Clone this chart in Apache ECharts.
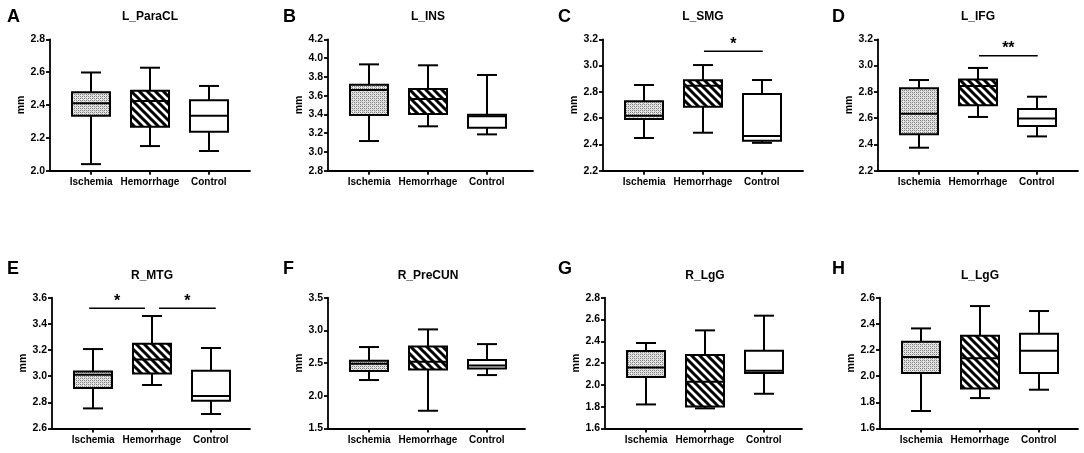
<!DOCTYPE html>
<html><head><meta charset="utf-8">
<script src="https://cdn.jsdelivr.net/npm/echarts@6/dist/echarts.min.js"></script>
<style>html,body{margin:0;padding:0;background:#fff}#c{width:1084px;height:453px}</style>
</head><body><div id="c"></div>
<script>
// ---------- DATA ----------
const categories = ['Ischemia', 'Hemorrhage', 'Control'];
// each row: [min, Q1, median, Q3, max]
const L_ParaCL = [[2.04, 2.335, 2.41, 2.478, 2.598], [2.15, 2.268, 2.425, 2.487, 2.627], [2.12, 2.237, 2.335, 2.429, 2.516]];
const L_INS    = [[3.116, 3.393, 3.66, 3.717, 3.933], [3.273, 3.404, 3.564, 3.67, 3.923], [3.187, 3.258, 3.38, 3.395, 3.82]];
const L_SMG    = [[2.449, 2.593, 2.619, 2.728, 2.852], [2.489, 2.687, 2.847, 2.888, 3.004], [2.412, 2.428, 2.464, 2.784, 2.89]];
const L_IFG    = [[2.375, 2.477, 2.634, 2.827, 2.89], [2.609, 2.698, 2.845, 2.895, 2.982], [2.461, 2.54, 2.598, 2.67, 2.763]];
const R_MTG    = [[2.753, 2.91, 3.01, 3.036, 3.207], [2.932, 3.021, 3.128, 3.248, 3.46], [2.71, 2.812, 2.847, 3.041, 3.215]];
const R_PreCUN = [[2.24, 2.378, 2.49, 2.536, 2.745], [1.77, 2.403, 2.52, 2.755, 3.015], [2.316, 2.418, 2.464, 2.546, 2.79]];
const R_LgG    = [[1.82, 2.071, 2.16, 2.31, 2.384], [1.784, 1.802, 2.029, 2.274, 2.5], [1.918, 2.108, 2.13, 2.313, 2.635]];
const L_LgG    = [[1.733, 2.023, 2.146, 2.263, 2.365], [1.832, 1.906, 2.136, 2.309, 2.536], [1.896, 2.023, 2.194, 2.324, 2.498]];

const panelLetters = ['A', 'B', 'C', 'D', 'E', 'F', 'G', 'H'];
const panelTitles = ['L_ParaCL', 'L_INS', 'L_SMG', 'L_IFG', 'R_MTG', 'R_PreCUN', 'R_LgG', 'L_LgG'];
const panelStats = [L_ParaCL, L_INS, L_SMG, L_IFG, R_MTG, R_PreCUN, R_LgG, L_LgG];
const yMins = [2.0, 2.8, 2.2, 2.2, 2.6, 1.5, 1.6, 1.6];
const yMaxs = [2.8, 4.2, 3.2, 3.2, 3.6, 3.5, 2.8, 2.6];
const yIntervals = [0.2, 0.2, 0.2, 0.2, 0.2, 0.5, 0.2, 0.2];
// significance comparisons: [fromGroup, toGroup, yLevel, label]
const sigC = [[2, 3, 3.11, '*']];
const sigD = [[2, 3, 3.075, '**']];
const sigE = [[1, 2, 3.519, '*'], [2, 3, 3.519, '*']];
const panelSig = [[], [], sigC, sigD, sigE, [], [], []];

// ---------- LAYOUT ----------
const FONT = '"Liberation Sans", Arial, Helvetica, sans-serif';
const lefts  = [50, 328, 603, 878, 52, 328, 605, 880];
const widths = [200, 205, 200, 200, 198, 197, 197, 198];
const rowTop = [39.3, 297.7], rowH = [131.4, 130.7];
const letterX = [7, 283, 558, 832, 7, 283, 558, 832];
const UNIT = 58.8; // px per category step
const BOX_HALF = 19, CAP_HALF = 10;

function makeDots() {
  const c = document.createElement('canvas'); c.width = 4; c.height = 4;
  const g = c.getContext('2d');
  g.fillStyle = '#e6e6e6'; g.fillRect(0, 0, 4, 4);
  g.fillStyle = '#7e7e7e';
  g.fillRect(0, 0, 1, 1); g.fillRect(2, 2, 1, 1); g.fillRect(2, 0, 1, 1); g.fillRect(0, 2, 1, 1);
  g.fillStyle = '#b8b8b8';
  g.fillRect(1, 1, 1, 1); g.fillRect(3, 3, 1, 1);
  return c;
}
function makeHatch() {
  const s = 8;
  const c = document.createElement('canvas'); c.width = s; c.height = s;
  const g = c.getContext('2d');
  g.fillStyle = '#fff'; g.fillRect(0, 0, s, s);
  g.strokeStyle = '#000'; g.lineWidth = 3; g.lineCap = 'square';
  g.beginPath();
  g.moveTo(-2, -2); g.lineTo(s + 2, s + 2);
  g.moveTo(-2, s - 2); g.lineTo(2, s + 2);
  g.moveTo(s - 2, -2); g.lineTo(s + 2, 2);
  g.stroke();
  return c;
}
const fills = [
  { image: makeDots(), repeat: 'repeat' },
  { image: makeHatch(), repeat: 'repeat' },
  '#ffffff'
];

const grids = [], xAxes = [], yAxes = [], series = [], titles = [];
for (let i = 0; i < 8; i++) {
  const row = i < 4 ? 0 : 1;
  grids.push({ left: lefts[i], top: rowTop[row], width: widths[i], height: rowH[row] });
  xAxes.push({
    gridIndex: i, type: 'value', min: 0.3, max: 0.3 + widths[i] / UNIT,
    axisLine: { show: true, onZero: false, lineStyle: { color: '#000', width: 1.8 } },
    axisTick: { show: true, customValues: [1, 2, 3], length: 4, lineStyle: { color: '#000', width: 1.8 } },
    axisLabel: { customValues: [1, 2, 3], formatter: v => categories[Math.round(v) - 1] || '',
      color: '#000', fontWeight: 'bold', fontSize: 10, fontFamily: FONT, margin: 7 },
    splitLine: { show: false }
  });
  yAxes.push({
    gridIndex: i, type: 'value', min: yMins[i], max: yMaxs[i], interval: yIntervals[i],
    axisLine: { show: true, onZero: false, lineStyle: { color: '#000', width: 1.8 } },
    axisTick: { show: true, length: 4, lineStyle: { color: '#000', width: 1.8 } },
    axisLabel: { formatter: v => v.toFixed(1), color: '#000', fontWeight: 'bold', fontSize: 10.5, fontFamily: FONT, margin: 5 },
    splitLine: { show: false },
    name: 'mm', nameLocation: 'middle', nameGap: 22,
    nameTextStyle: { color: '#000', fontWeight: 'bold', fontSize: 10.5, fontFamily: FONT }
  });
  const stats = panelStats[i];
  series.push({
    type: 'custom', xAxisIndex: i, yAxisIndex: i, clip: false,
    data: stats.map((s, j) => [j + 1].concat(s)),
    encode: { x: 0, y: [1, 2, 3, 4, 5] },
    renderItem: function (params, api) {
      const x = api.value(0);
      const p = [1, 2, 3, 4, 5].map(k => api.coord([x, api.value(k)]));
      const cx = Math.round(p[0][0]);
      const yMin = p[0][1], yQ1 = p[1][1], yMed = p[2][1], yQ3 = p[3][1], yMax = p[4][1];
      const ls = { stroke: '#000', lineWidth: 2, fill: null };
      return {
        type: 'group',
        children: [
          { type: 'line', shape: { x1: cx, y1: yQ1, x2: cx, y2: yMin }, style: ls },
          { type: 'line', shape: { x1: cx, y1: yQ3, x2: cx, y2: yMax }, style: ls },
          { type: 'line', shape: { x1: cx - CAP_HALF, y1: yMin, x2: cx + CAP_HALF, y2: yMin }, style: ls },
          { type: 'line', shape: { x1: cx - CAP_HALF, y1: yMax, x2: cx + CAP_HALF, y2: yMax }, style: ls },
          { type: 'rect', shape: { x: cx - BOX_HALF, y: yQ3, width: 2 * BOX_HALF, height: yQ1 - yQ3 },
            style: { fill: fills[params.dataIndex], stroke: '#000', lineWidth: 2 } },
          { type: 'line', shape: { x1: cx - BOX_HALF, y1: yMed, x2: cx + BOX_HALF, y2: yMed }, style: ls }
        ]
      };
    }
  });
  const sig = panelSig[i];
  if (sig.length) {
    series.push({
      type: 'custom', xAxisIndex: i, yAxisIndex: i, clip: false,
      data: sig.map(s => [s[0], s[1], s[2]]),
      encode: { x: [0, 1], y: 2 },
      renderItem: function (params, api) {
        const a = api.coord([api.value(0), api.value(2)]);
        const b = api.coord([api.value(1), api.value(2)]);
        const shared = sig.length > 1;
        const inset = shared ? 7 : 0;
        let x1 = a[0], x2 = b[0];
        if (shared && params.dataIndex === 0) { x1 -= 4; x2 -= inset; }
        if (shared && params.dataIndex === 1) { x1 += inset; x2 += 5; }
        if (!shared) { x1 += 1; x2 += 1; }
        return {
          type: 'group',
          children: [
            { type: 'line', shape: { x1: x1, y1: a[1], x2: x2, y2: a[1] }, style: { stroke: '#000', lineWidth: 1.5 } },
            { type: 'text', x: (x1 + x2) / 2, y: a[1] + 1,
              style: { text: sig[params.dataIndex][3], fill: '#000', font: 'bold 16px ' + FONT,
                       align: 'center', verticalAlign: 'bottom' } }
          ]
        };
      }
    });
  }
  const centerX = lefts[i] + 100;
  titles.push({ text: panelLetters[i], left: letterX[i], top: row ? 260 : 8,
    textStyle: { color: '#000', fontWeight: 'bold', fontSize: 18, fontFamily: FONT }, padding: 0 });
  titles.push({ text: panelTitles[i], left: centerX, textAlign: 'center', top: row ? 270 : 11,
    textStyle: { color: '#000', fontWeight: 'bold', fontSize: 12, fontFamily: FONT }, padding: 0 });
}

const chart = echarts.init(document.getElementById('c'), null, { renderer: 'canvas' });
chart.setOption({
  animation: false,
  backgroundColor: '#fff',
  title: titles,
  grid: grids,
  xAxis: xAxes,
  yAxis: yAxes,
  series: series
});
</script>
</body></html>
